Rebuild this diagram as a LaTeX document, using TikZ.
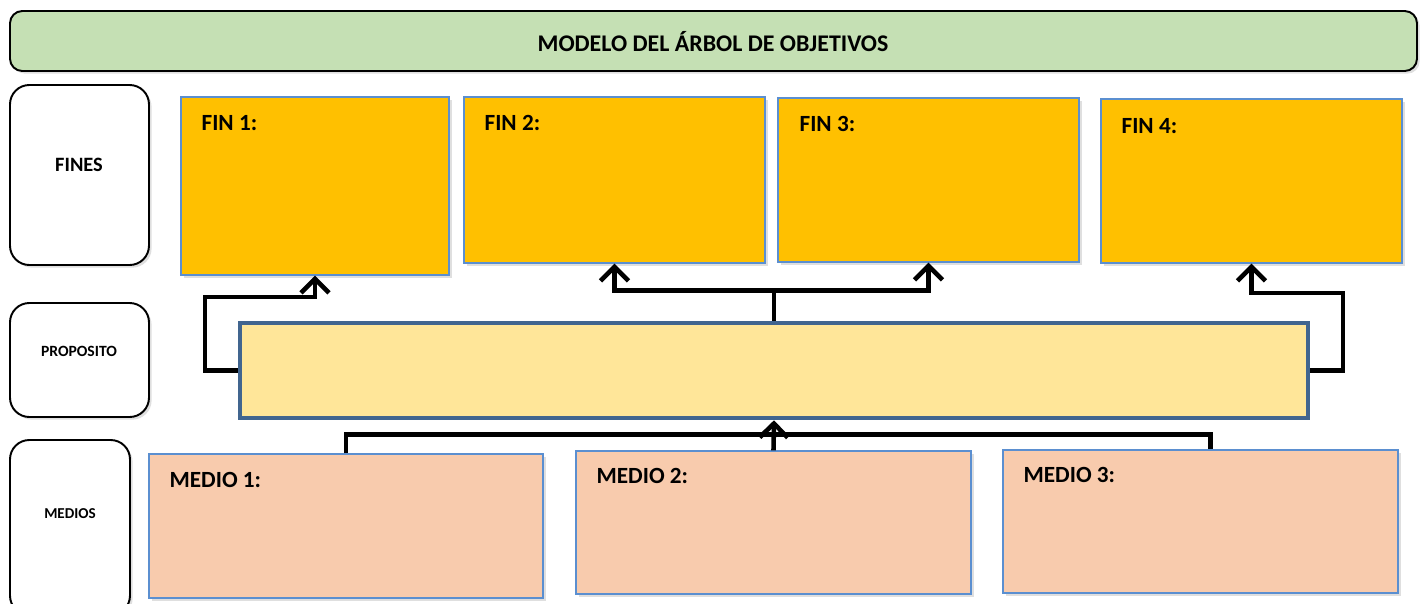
\documentclass[tikz,border=0pt]{standalone}
\usepackage{fontspec}
\setmainfont{Carlito}
\usetikzlibrary{arrows.meta, positioning, fit, shadows}

\definecolor{titlegreen}{HTML}{C5E0B4}
\definecolor{finorange}{HTML}{FFC000}
\definecolor{propyellow}{HTML}{FFE699}
\definecolor{mediopeach}{HTML}{F8CBAD}
\definecolor{boxblue}{HTML}{5B8FD0}
\definecolor{propblue}{HTML}{41658F}

\begin{document}
\begin{tikzpicture}[
    x=0.02cm, y=-0.02cm,
    shadowed/.style={drop shadow={opacity=0.25, shadow xshift=1.5pt, shadow yshift=-1.5pt}},
    titlebox/.style={draw=black, line width=1.1pt, rounded corners=7pt, fill=titlegreen, inner sep=0pt, shadowed},
    levelbox/.style={draw=black, line width=1.1pt, rounded corners=11pt, fill=white, inner sep=0pt, shadowed},
    finbox/.style={draw=boxblue, line width=0.8pt, fill=finorange, inner sep=0pt, shadowed},
    propbox/.style={draw=propblue, line width=2.6pt, fill=propyellow, inner sep=0pt},
    mediobox/.style={draw=boxblue, line width=0.8pt, fill=mediopeach, inner sep=0pt, shadowed},
    boxlabel/.style={font=\bfseries\fontsize{13.2}{15}\selectfont, inner sep=0pt},
    link/.style={line width=2.6pt, black},
    flow/.style={link, -{Straight Barb[length=2.8mm, width=5.6mm]}}
]
    \useasboundingbox (0,0) rectangle (1423,603);

    % title and row names
    \node[titlebox, fit={(10,11) (1417,71)}] (title) {};
    \node[font=\bfseries\fontsize{13.6}{15}\selectfont] at (713,42) (titleTxt) {MODELO DEL ÁRBOL DE OBJETIVOS};
    \node[levelbox, fit={(10,85) (149,265)}]  (fines) {};
    \node[font=\bfseries\fontsize{11.6}{13}\selectfont] at (79,165) (finesTxt) {FINES};
    \node[levelbox, fit={(10,303) (149,417)}] (proposito) {};
    \node[font=\bfseries\fontsize{8.9}{10}\selectfont] at (79,351) (propTxt) {PROPOSITO};
    \node[levelbox, fit={(10,440) (130,615)}] (medios) {};
    \node[font=\bfseries\fontsize{8.6}{10}\selectfont] at (70,514) (mediosTxt) {MEDIOS};

    % fines
    \node[finbox, fit={(181,97) (449,275)}]   (fin1) {};
    \node[finbox, fit={(464,97) (765,263)}]   (fin2) {};
    \node[finbox, fit={(778,98) (1079,262)}]  (fin3) {};
    \node[finbox, fit={(1101,99) (1402,263)}] (fin4) {};
    \node[boxlabel, below right=0.38cm and 0.42cm of fin1.north west] (fin1Lbl) {FIN 1:};
    \node[boxlabel, below right=0.38cm and 0.42cm of fin2.north west] (fin2Lbl) {FIN 2:};
    \node[boxlabel, below right=0.38cm and 0.44cm of fin3.north west] (fin3Lbl) {FIN 3:};
    \node[boxlabel, below right=0.40cm and 0.42cm of fin4.north west] (fin4Lbl) {FIN 4:};

    % proposito
    \node[propbox, fit={(240,323) (1308,418)}] (prop) {};

    % medios
    \node[mediobox, fit={(149,454) (543,598)}]  (medio1) {};
    \node[mediobox, fit={(576,451) (971,594)}]  (medio2) {};
    \node[mediobox, fit={(1003,450) (1398,593)}] (medio3) {};
    \node[boxlabel, below right=0.38cm and 0.42cm of medio1.north west] (medio1Lbl) {MEDIO 1:};
    \node[boxlabel, below right=0.36cm and 0.42cm of medio2.north west] (medio2Lbl) {MEDIO 2:};
    \node[boxlabel, below right=0.36cm and 0.42cm of medio3.north west] (medio3Lbl) {MEDIO 3:};

    % bends
    \coordinate (leftBend)  at (205,297);
    \coordinate (rightBend) at (1343,293);

    % proposito -> fines
    \draw[flow] (prop.west) -| (leftBend) -| (fin1.south);
    \draw[link] (prop.north) -- ++(0,-30) coordinate (topJoin);
    \draw[flow] (topJoin) -| (fin2.south);
    \draw[flow] (topJoin) -| (fin3.south);
    \draw[flow] (prop.east) -| (rightBend) -| (fin4.south);

    % medios -> proposito
    \draw[link] (medio1.north) -- ++(0,-19) -| ([xshift=0.2cm]medio3.north);
    \draw[flow] (medio2.north) -- (prop.south);

\end{tikzpicture}
\end{document}
